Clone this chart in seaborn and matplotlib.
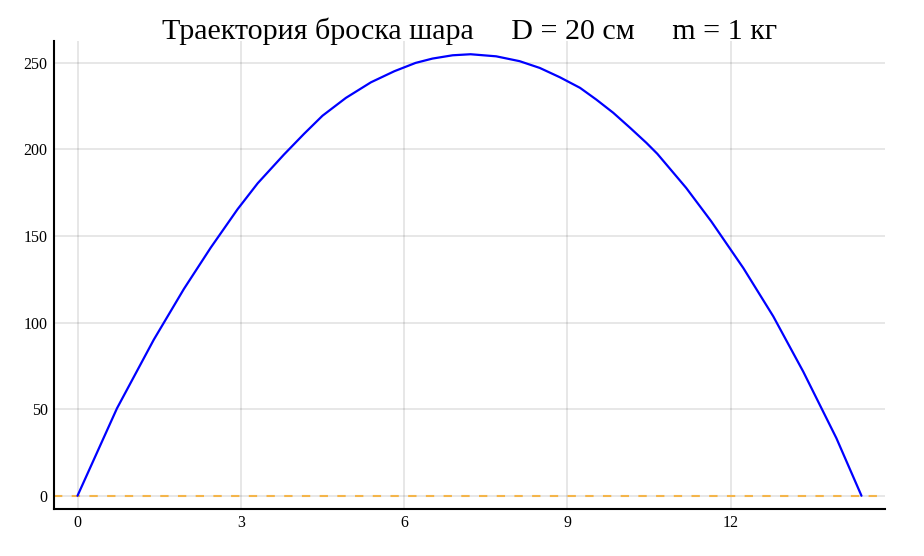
import matplotlib
matplotlib.use("Agg")
import matplotlib.pyplot as plt
import seaborn as sns
import pandas as pd

# Trajectory
x_dist = [0, 0.725, 1.40, 1.955, 2.447, 2.94, 3.31, 3.79, 4.16, 4.50, 4.93,
          5.39, 5.82, 6.21, 6.52, 6.89, 7.22, 7.69, 8.12, 8.49, 8.86, 9.23,
          9.53, 9.84, 10.15, 10.45, 10.65, 11.18, 11.64, 12.23, 12.78, 13.33,
          13.94, 14.40]
y_height = [0, 50.5, 90.1, 119.5, 143.3, 165.5, 180.5, 197.0, 209.0, 219.5, 229.8,
            238.8, 245.2, 250.0, 252.5, 254.4, 255.0, 253.8, 251.0, 247.1, 241.7, 235.6,
            228.8, 221.2, 212.5, 203.8, 197.5, 177.8, 158.5, 131.5, 103.6, 71.7,
            33.2, 0]
ground_y = 0
x_ticks = [0, 3, 6, 9, 12]
y_ticks = [0, 50, 100, 150, 200, 250]
title = "Траектория броска шара     D = 20 см     m = 1 кг"

sns.set_style("white")
plt.rcParams['font.family'] = ['Liberation Serif', 'DejaVu Serif']

fig = plt.figure(figsize=(9.24, 5.56), dpi=100)
ax = fig.add_axes([54/924, 1 - 509/556, (885-54)/924, (509-41)/556])

df = pd.DataFrame({"x": x_dist, "y": y_height})
sns.lineplot(data=df, x="x", y="y", sort=False, estimator=None, ax=ax,
             color="#0000ff", linewidth=1.6, zorder=3)

xmin, xmax = min(x_dist), max(x_dist)
ymin, ymax = min(y_height), max(y_height)
dx = (xmax - xmin) * 0.03
dy = (ymax - ymin) * 0.03
ax.set_xlim(xmin - dx, xmax + dx)
ax.set_ylim(ymin - dy, ymax + dy)

ax.axhline(ground_y, color="#f4b54a", linestyle=(0, (4, 4.5)), linewidth=1.5, zorder=2)

ax.set_xticks(x_ticks)
ax.set_yticks(y_ticks)
ax.grid(True, color="black", alpha=0.12, linewidth=1.1)
ax.set_axisbelow(True)
ax.set_xlabel("")
ax.set_ylabel("")

for s in ["top", "right"]:
    ax.spines[s].set_visible(False)
for s in ["left", "bottom"]:
    ax.spines[s].set_color("black")
    ax.spines[s].set_linewidth(1.5)

ax.tick_params(axis="both", direction="in", length=5.5, width=1.4, color="black",
               labelsize=11.5, labelcolor="black", pad=4.5)

fig.text(470/924, 1 - 31/556, title, ha="center", va="center", fontsize=21.6,
         color="black")

fig.savefig("out.png", dpi=100)
